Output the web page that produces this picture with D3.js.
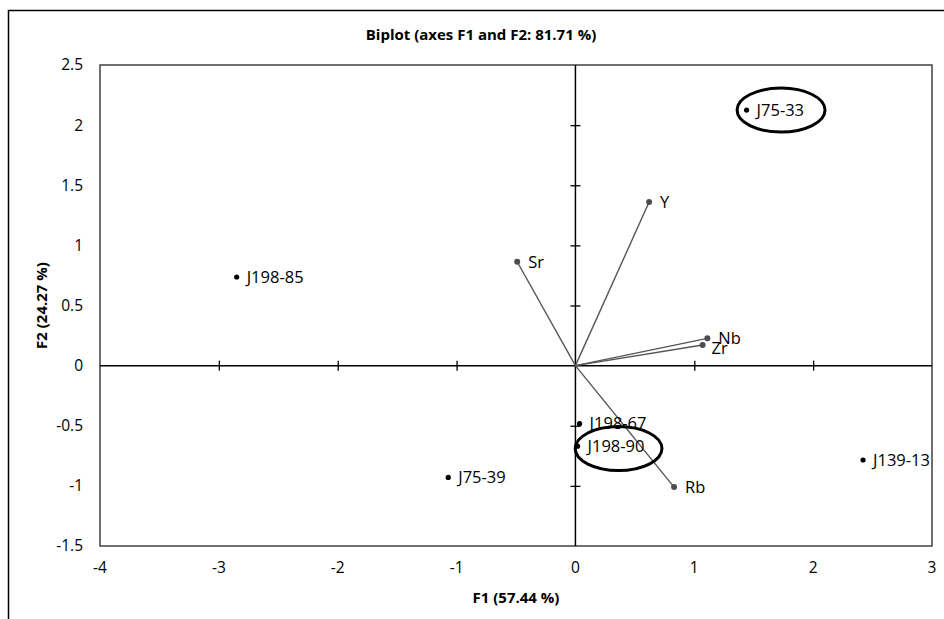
<!DOCTYPE html>
<html>
<head>
<meta charset="utf-8">
<script src="https://cdn.jsdelivr.net/npm/d3@7"></script>
<style>
body{margin:0;background:#fff;}
svg{display:block;font-family:"Open Sans",sans-serif;}
</style>
</head>
<body>
<svg id="chart" width="944" height="619"></svg>
<script>
// observations (samples)
const sampleNames = ["J75-33","J198-85","J75-39","J139-13","J198-67","J198-90"];
const sampleF1 = [1.44,-2.85,-1.07,2.42,0.035,0.018];
const sampleF2 = [2.125,0.737,-0.93,-0.785,-0.483,-0.67];
// variables (loadings)
const varNames = ["Sr","Y","Nb","Zr","Rb"];
const varF1 = [-0.49,0.62,1.11,1.07,0.83];
const varF2 = [0.864,1.36,0.227,0.171,-1.01];
// circled samples: centre and radii in axis units
const ringF1 = [1.73,0.363];
const ringF2 = [2.125,-0.69];
const ringRx = [0.37,0.365];
const ringRy = [0.183,0.183];
const xTicks = [-4,-3,-2,-1,0,1,2,3];
const yTicks = [-1.5,-1,-0.5,0,0.5,1,1.5,2,2.5];

const svg = d3.select("#chart");
const W = 944, H = 619;
const m = {left:100, right:12, top:65, bottom:73};

//outer chart border
svg.append("rect").attr("x",8.5).attr("y",10.5).attr("width",W).attr("height",H)
	.attr("fill","none").attr("stroke","#000").attr("stroke-width",1.5);

const x = d3.scaleLinear().domain([-4,3]).range([m.left,W-m.right]);
const y = d3.scaleLinear().domain([-1.5,2.5]).range([H-m.bottom,m.top]);

const plot = svg.append("g");
plot.append("defs").append("clipPath").attr("id","clip")
	.append("rect").attr("x",x(-4)).attr("y",y(2.5)).attr("width",x(3)-x(-4)).attr("height",y(-1.5)-y(2.5));

//plot frame
plot.append("rect").attr("x",x(-4)).attr("y",y(2.5)).attr("width",x(3)-x(-4)).attr("height",y(-1.5)-y(2.5))
	.attr("fill","none").attr("stroke","#404040").attr("stroke-width",1.5);

//tick labels (plain hyphen like the original)
svg.append("g").selectAll("text").data(yTicks).enter().append("text")
	.attr("x",x(-4)-17).attr("y",d=>y(d)).attr("dy","0.35em")
	.attr("text-anchor","end").attr("font-size",15.5).attr("fill","#000")
	.text(d=>String(d));
svg.append("g").selectAll("text").data(xTicks).enter().append("text")
	.attr("x",d=>x(d)).attr("y",y(-1.5)+22).attr("dy","0.35em")
	.attr("text-anchor","middle").attr("font-size",15.5).attr("fill","#000")
	.text(d=>String(d));

//zero axes with crossing ticks
const zx = d3.axisBottom(x).tickValues(xTicks.filter(d=>d!==0&&d!==-4&&d!==3)).tickSize(10).tickFormat("");
const zy = d3.axisLeft(y).tickValues(yTicks.filter(d=>d!==0&&d!==-1.5&&d!==2.5)).tickSize(10).tickFormat("");
const gx = plot.append("g").attr("transform",`translate(0,${y(0)-5})`).call(zx);
gx.select(".domain").remove();
plot.append("line").attr("x1",x(-4)).attr("x2",x(3)).attr("y1",y(0)).attr("y2",y(0)).attr("stroke","#000").attr("stroke-width",1.5);
const gy = plot.append("g").attr("transform",`translate(${x(0)+5},0)`).call(zy);
gy.select(".domain").remove();
plot.append("line").attr("x1",x(0)).attr("x2",x(0)).attr("y1",y(2.5)).attr("y2",y(-1.5)).attr("stroke","#000").attr("stroke-width",1.5);
plot.selectAll(".tick line").attr("stroke","#000").attr("stroke-width",1.3);

//variable vectors
const vars = varNames.map((n,i)=>({n,f1:varF1[i],f2:varF2[i]}));
plot.append("g").selectAll("line").data(vars).enter().append("line")
	.attr("x1",x(0)).attr("y1",y(0)).attr("x2",d=>x(d.f1)).attr("y2",d=>y(d.f2))
	.attr("stroke","#555").attr("stroke-width",1.4);
plot.append("g").selectAll("circle").data(vars).enter().append("circle")
	.attr("cx",d=>x(d.f1)).attr("cy",d=>y(d.f2)).attr("r",3).attr("fill","#4d4d4d");
plot.append("g").selectAll("text").data(vars).enter().append("text")
	.attr("x",d=>x(d.f1)+(d.n==="Zr"?9:11)).attr("y",d=>y(d.f2)+(d.n==="Zr"?3:0)).attr("dy","0.35em")
	.attr("font-size",16.5).attr("fill","#000").text(d=>d.n);

//samples
const samples = sampleNames.map((n,i)=>({n,f1:sampleF1[i],f2:sampleF2[i]}));
const gs = plot.append("g").attr("clip-path","url(#clip)");
gs.selectAll("circle").data(samples).enter().append("circle")
	.attr("cx",d=>x(d.f1)).attr("cy",d=>y(d.f2)).attr("r",2.6).attr("fill","#000");
gs.selectAll("text").data(samples).enter().append("text")
	.attr("x",d=>x(d.f1)+10).attr("y",d=>y(d.f2)).attr("dy","0.35em")
	.attr("font-size",16.5).attr("fill","#000").text(d=>d.n);

//highlight ellipses
plot.append("g").selectAll("ellipse").data(ringF1).enter().append("ellipse")
	.attr("cx",d=>x(d)).attr("cy",(d,i)=>y(ringF2[i]))
	.attr("rx",(d,i)=>x(ringRx[i])-x(0)).attr("ry",(d,i)=>y(0)-y(ringRy[i]))
	.attr("fill","none").attr("stroke","#000").attr("stroke-width",3);

//titles
svg.append("text").attr("x",481).attr("y",35).attr("dy","0.35em").attr("text-anchor","middle")
	.attr("font-size",15).attr("font-weight","bold").text("Biplot (axes F1 and F2: 81.71 %)");
svg.append("text").attr("x",(x(-4)+x(3))/2).attr("y",598).attr("dy","0.35em").attr("text-anchor","middle")
	.attr("font-size",15).attr("font-weight","bold").text("F1 (57.44 %)");
svg.append("text").attr("transform",`translate(42,${(y(2.5)+y(-1.5))/2}) rotate(-90)`).attr("dy","0.35em")
	.attr("text-anchor","middle").attr("font-size",15).attr("font-weight","bold").text("F2 (24.27 %)");
</script>
</body>
</html>
